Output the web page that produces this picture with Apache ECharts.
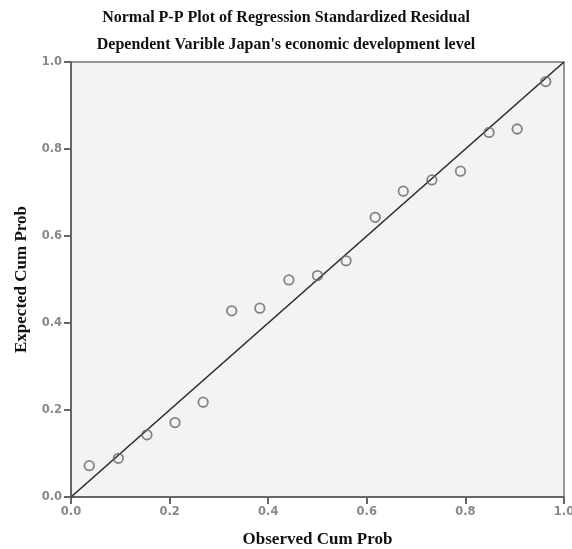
<!DOCTYPE html>
<html>
<head>
<meta charset="utf-8">
<script src="https://cdn.jsdelivr.net/npm/echarts@6/dist/echarts.min.js"></script>
<style>
  html, body { margin: 0; padding: 0; background: #fff; }
  #chart { width: 572px; height: 549px; }
</style>
</head>
<body>
<div id="chart"></div>
<script>
// observed vs expected cumulative probabilities
const observed = [0.037, 0.096, 0.154, 0.211, 0.268, 0.326, 0.383, 0.442, 0.500, 0.558, 0.617, 0.674, 0.732, 0.790, 0.848, 0.905, 0.963];
const expected = [0.072, 0.089, 0.143, 0.171, 0.218, 0.428, 0.434, 0.499, 0.509, 0.543, 0.643, 0.703, 0.729, 0.749, 0.838, 0.846, 0.955];
const refLine = [[0, 0], [1, 1]];

const titleText = 'Normal P-P Plot of Regression Standardized Residual';
const subText = "Dependent Varible Japan's economic development level";

const points = observed.map((x, i) => [x, expected[i]]);

const chart = echarts.init(document.getElementById('chart'));

const axisCommon = {
  type: 'value',
  min: 0,
  max: 1,
  interval: 0.2,
  nameLocation: 'middle',
  nameTextStyle: { fontFamily: 'Liberation Serif', fontWeight: 'bold', fontSize: 17, color: '#111' },
  axisLine: { show: true, lineStyle: { color: '#666', width: 2 } },
  axisTick: { show: true, length: 7, lineStyle: { color: '#666', width: 2 } },
  axisLabel: {
    color: '#888',
    fontFamily: 'DejaVu Sans',
    fontWeight: 'bold',
    fontSize: 11.5,
    margin: 9,
    formatter: v => v.toFixed(1)
  },
  splitLine: { show: false }
};

chart.setOption({
  animation: false,
  backgroundColor: '#fff',
  title: [
    {
      text: titleText,
      left: 'center',
      top: 5,
      textStyle: { fontFamily: 'Liberation Serif', fontWeight: 'bold', fontSize: 16, color: '#111' }
    },
    {
      text: subText,
      left: 'center',
      top: 32,
      textStyle: { fontFamily: 'Liberation Serif', fontWeight: 'bold', fontSize: 16, color: '#111' }
    }
  ],
  grid: {
    left: 71,
    right: 8,
    top: 62,
    bottom: 52,
    outerBoundsMode: 'none',
    show: true,
    backgroundColor: '#f3f3f3',
    borderColor: '#777',
    borderWidth: 1.5
  },
  xAxis: Object.assign({}, axisCommon, {
    name: 'Observed Cum Prob',
    nameGap: 34
  }),
  yAxis: Object.assign({}, axisCommon, {
    name: 'Expected Cum Prob',
    nameGap: 41
  }),
  series: [
    {
      type: 'line',
      data: refLine,
      symbol: 'none',
      lineStyle: { color: '#2a2a2a', width: 1.6 },
      silent: true,
      z: 2
    },
    {
      type: 'scatter',
      data: points,
      symbol: 'circle',
      symbolSize: 9.5,
      itemStyle: { color: 'rgba(0,0,0,0)', borderColor: '#666', borderWidth: 1.8 },
      z: 3
    }
  ]
});
</script>
</body>
</html>
